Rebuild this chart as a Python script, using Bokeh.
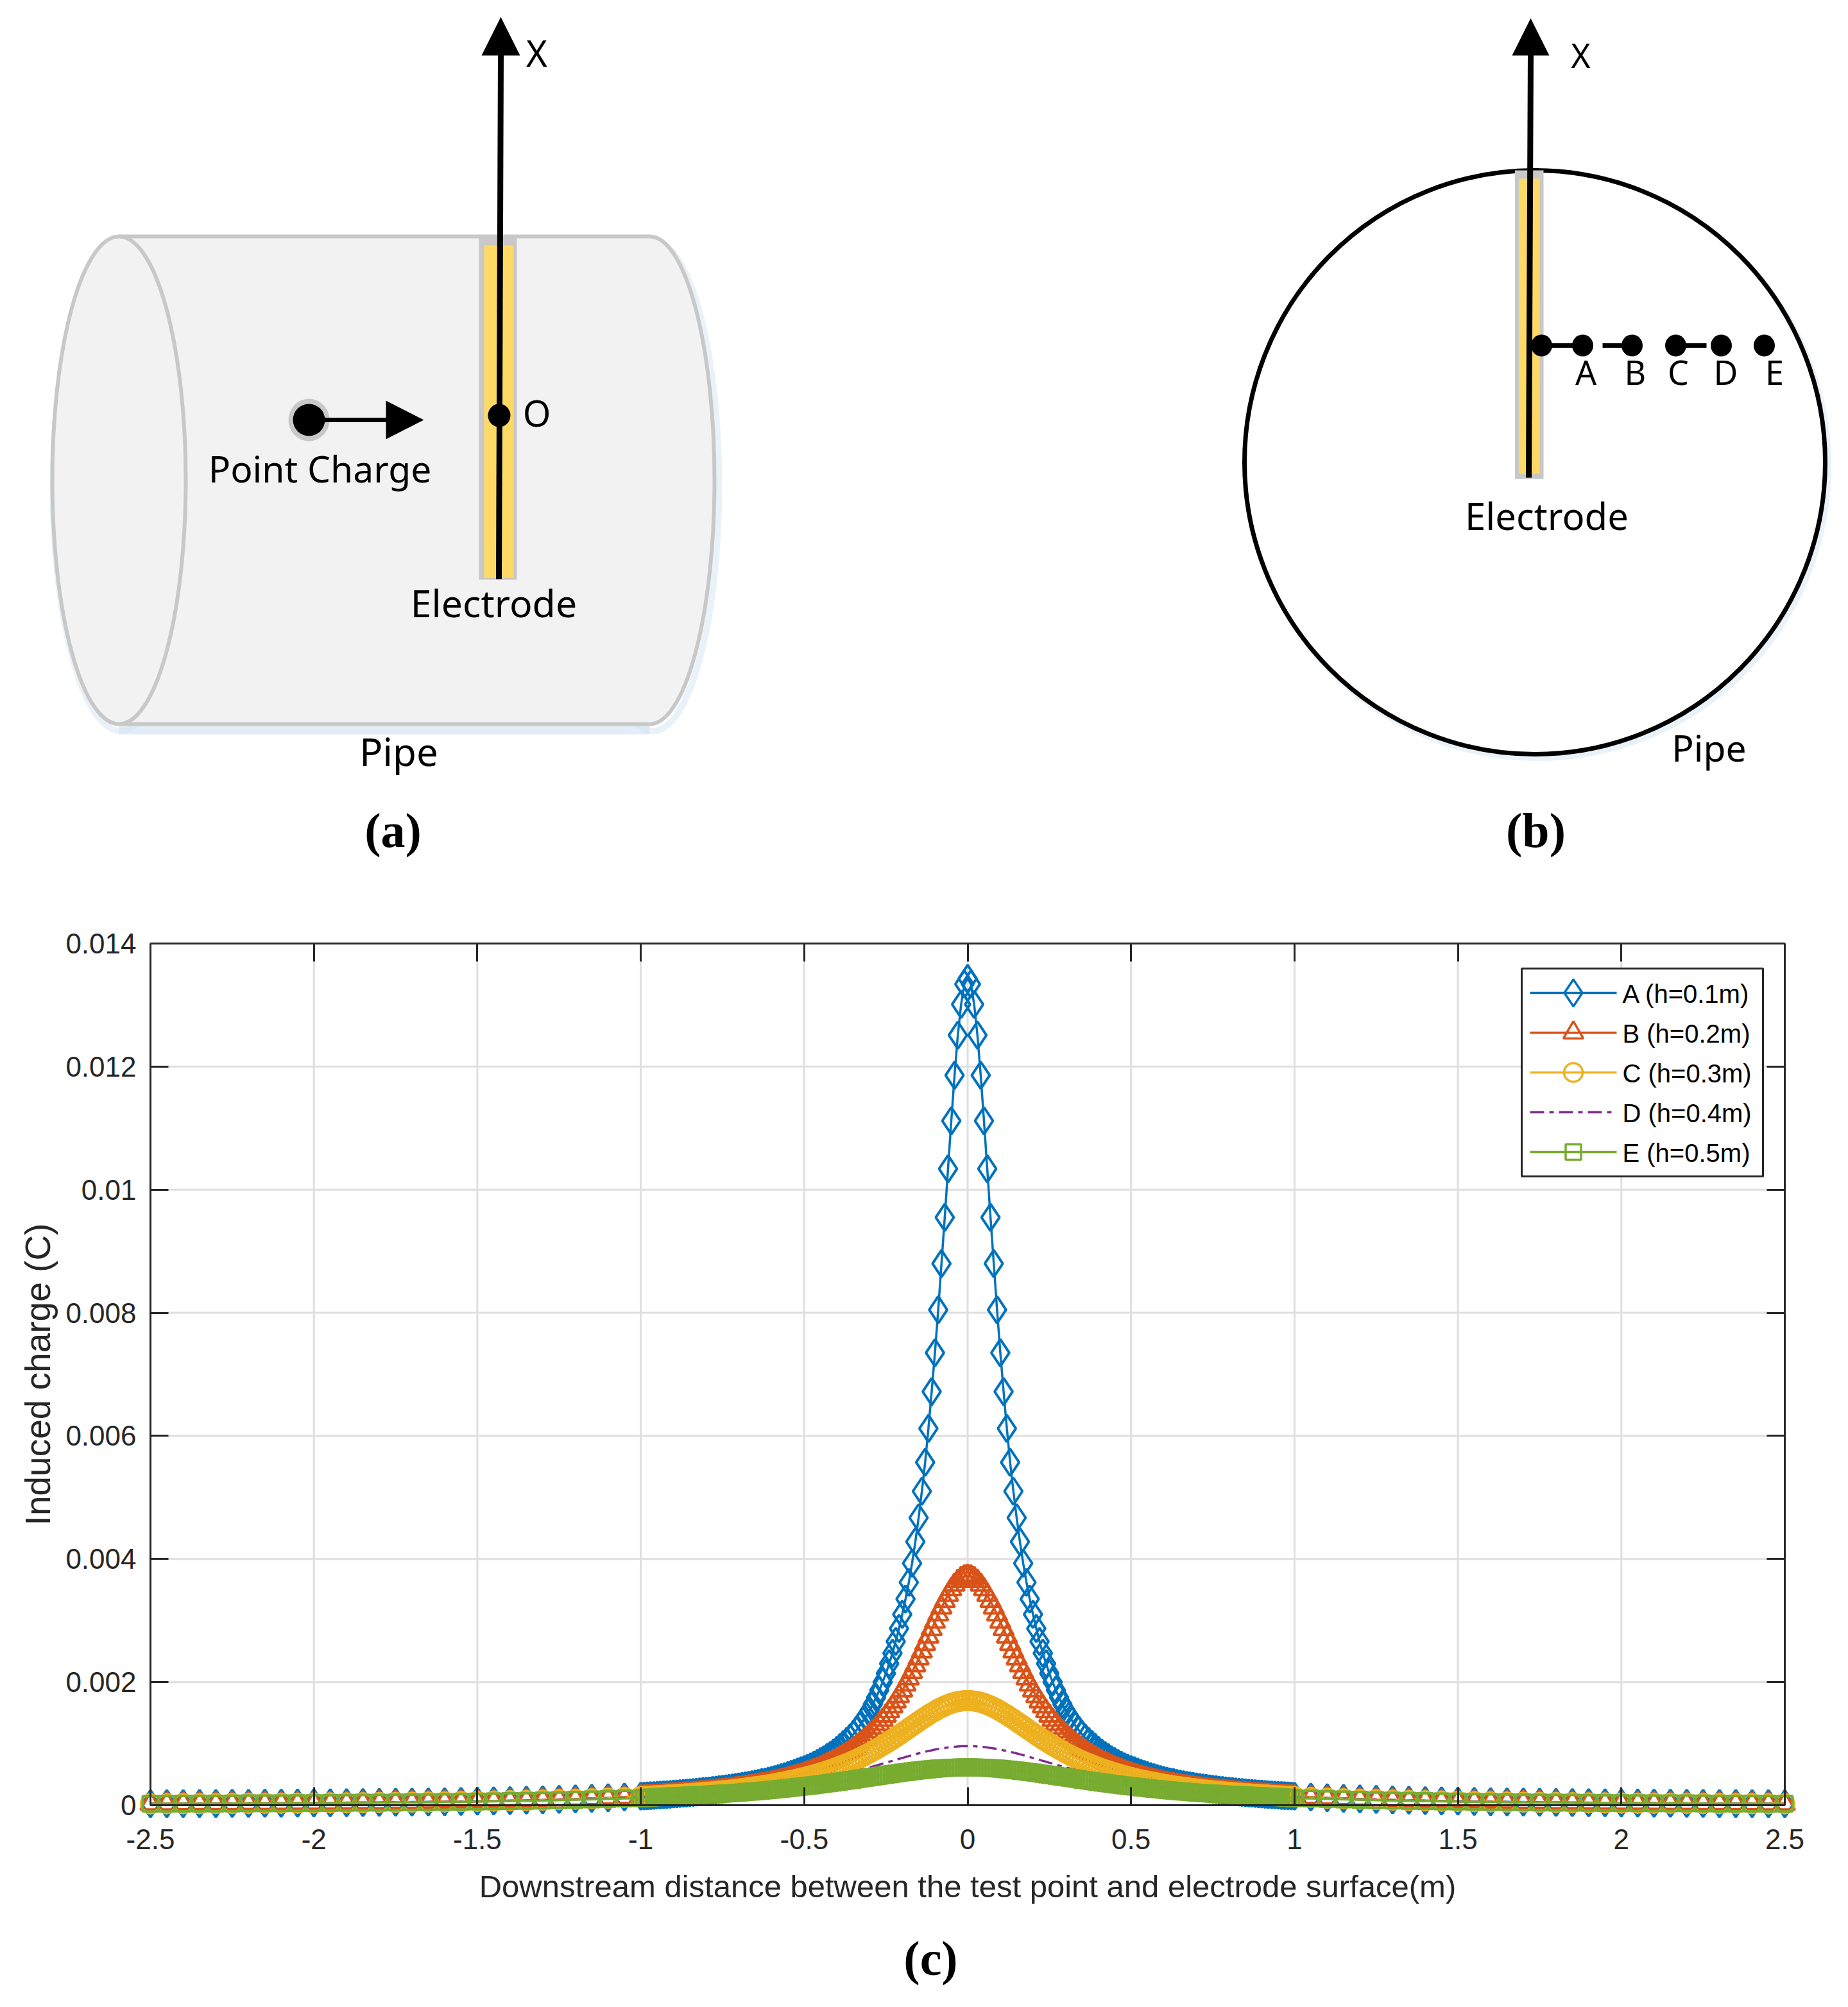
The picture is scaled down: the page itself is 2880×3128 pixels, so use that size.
from bokeh.plotting import figure
from bokeh.models import Range1d, FixedTicker, LinearAxis
from bokeh.core.properties import value
from bokeh.embed import file_html
from bokeh.resources import INLINE

# ---------- chart data: values; the curves are symmetric about x = 0 ----------
X_INNER = [i / 100 for i in range(101)]                 # 0 .. 1 in steps of 0.01
X_OUTER = [1 + (i + 1) * 0.05 for i in range(30)]       # 1.05 .. 2.5 in steps of 0.05

A_INNER = [.01343,.01334,.01301,.01251,.01186,.01112,.01034,.00955,.00880,.00805,.00735,.00672,.00612,.00557,.00510,.00467,.00428,.00393,.00362,.00335,.00310,.00287,.00266,.00247,.00230,.00214,.00200,.00187,.00175,.00164,.00154,.00145,.00137,.00129,.00122,.00115,.00109,.00104,.00099,.00094,.00089,.00085,.00081,.000775,.00074,.00071,.00068,.00065,.000625,.00060,.00058,
           .000561,.00054,.00052,.000501,.000483,.000466,.000449,.000434,.000419,.000405,.000392,.00038,.000368,.000356,.000345,.000335,.000325,.000316,.000307,.000298,.00029,.000282,.000274,.000267,.00026,.000253,.000246,.00024,.000234,.000228,.000222,.000217,.000212,.000207,.000202,.000197,.000193,.000189,.000184,.00018,.000176,.000172,.000169,.000165,.000162,.000158,.000155,.000152,.000149,.000146]
B_INNER = [.003725,.003716,.003688,.003643,.003582,.003506,.003417,.003318,.003211,.003098,.00298,.00286,.002739,.002619,.0025,.002384,.002271,.002163,.002058,.001958,.001863,.001772,.001686,.001604,.001527,.001454,.001385,.00132,.001258,.001201,.001146,.001095,.001046,.001001,.000958,.000917,.000879,.000842,.000808,.000776,.000745,.000716,.000689,.000663,.000638,.000614,.000592,.000571,.000551,.000532,.000514,
           .000496,.00048,.000464,.000449,.000435,.000421,.000408,.000396,.000384,.000372,.000362,.000351,.000341,.000331,.000322,.000313,.000305,.000297,.000289,.000281,.000274,.000267,.00026,.000254,.000247,.000241,.000235,.00023,.000224,.000219,.000214,.000209,.000204,.0002,.000195,.000191,.000187,.000183,.000179,.000175,.000172,.000168,.000165,.000161,.000158,.000155,.000152,.000149,.000146,.000143]
C_INNER = [.0017,.001698,.001692,.001683,.00167,.001654,.001635,.001612,.001587,.00156,.00153,.001499,.001466,.001431,.001396,.00136,.001324,.001287,.00125,.001213,.001177,.001141,.001105,.001071,.001037,.001003,.000971,.000939,.000909,.000879,.00085,.000822,.000795,.000769,.000744,.00072,.000697,.000674,.000653,.000632,.000612,.000593,.000574,.000557,.000539,.000523,.000507,.000492,.000478,.000464,.00045,
           .000437,.000425,.000413,.000401,.00039,.000379,.000369,.000359,.000349,.00034,.000331,.000323,.000314,.000306,.000299,.000291,.000284,.000277,.00027,.000264,.000258,.000251,.000246,.00024,.000234,.000229,.000224,.000219,.000214,.00021,.000205,.000201,.000196,.000192,.000188,.000184,.000181,.000177,.000173,.00017,.000167,.000163,.00016,.000157,.000154,.000151,.000148,.000146,.000143,.00014]
D_INNER = [.00096,.000959,.000958,.000955,.00095,.000945,.000939,.000931,.000923,.000914,.000904,.000892,.000881,.000868,.000855,.000842,.000828,.000813,.000798,.000783,.000768,.000753,.000737,.000721,.000706,.00069,.000675,.000659,.000644,.000629,.000614,.0006,.000585,.000571,.000557,.000544,.00053,.000517,.000505,.000492,.00048,.000468,.000457,.000445,.000434,.000424,.000413,.000403,.000393,.000384,.000375,
           .000366,.000357,.000348,.00034,.000332,.000324,.000317,.000309,.000302,.000295,.000289,.000282,.000276,.00027,.000264,.000258,.000252,.000247,.000241,.000236,.000231,.000226,.000222,.000217,.000213,.000208,.000204,.0002,.000196,.000192,.000188,.000185,.000181,.000177,.000174,.000171,.000168,.000164,.000161,.000158,.000155,.000153,.00015,.000147,.000145,.000142,.00014,.000137,.000135,.000132]
E_INNER = [.000615,.000615,.000614,.000613,.000611,.000609,.000606,.000603,.0006,.000596,.000592,.000587,.000582,.000577,.000571,.000565,.000559,.000552,.000545,.000538,.000531,.000524,.000516,.000508,.0005,.000493,.000485,.000477,.000469,.000461,.000453,.000445,.000437,.000429,.000421,.000413,.000406,.000398,.00039,.000383,.000376,.000368,.000361,.000354,.000347,.00034,.000333,.000327,.00032,.000314,.000308,
           .000302,.000296,.00029,.000284,.000278,.000272,.000266,.000261,.000255,.00025,.000245,.00024,.000235,.00023,.000226,.000222,.000218,.000214,.000209,.000204,.0002,.000196,.000193,.00019,.000187,.000184,.000181,.000178,.000175,.000172,.000169,.000166,.000163,.00016,.000158,.000155,.000153,.000151,.000148,.000146,.000143,.00014,.000137,.000134,.000132,.000128,.000124,.00012,.000116,.000112]

A_OUTER = [.000133,.000121,.000111,.000102,.000094,.000087,.000081,.000075,.00007,.000065,.000061,.000057,.000054,.000051,.000048,.000045,.000043,.000041,.000039,.000037,.000035,.000033,.000032,.00003,.000029,.000028,.000027,.000026,.000025,.000024]
B_OUTER = [.00013,.000119,.000109,.0001,.000093,.000086,.000079,.000074,.000069,.000064,.00006,.000057,.000053,.00005,.000048,.000045,.000043,.00004,.000038,.000037,.000035,.000033,.000032,.00003,.000029,.000028,.000027,.000026,.000024,.000024]
C_OUTER = [.000124,.000114,.000105,.000097,.00009,.000083,.000077,.000072,.000067,.000063,.000059,.000056,.000052,.00005,.000047,.000045,.000042,.00004,.000038,.000036,.000034,.000033,.000032,.00003,.000029,.000028,.000026,.000025,.000024,.000023]
D_OUTER = [.000117,.000108,.0001,.000092,.000086,.00008,.000075,.00007,.000065,.000061,.000058,.000054,.000051,.000049,.000046,.000044,.000042,.000039,.000038,.000036,.000034,.000033,.000031,.00003,.000029,.000027,.000026,.000025,.000024,.000023]
E_OUTER = [.000109,.000101,.000094,.000088,.000082,.000076,.000071,.000067,.000063,.000059,.000056,.000053,.00005,.000047,.000045,.000043,.000041,.000039,.000037,.000035,.000034,.000032,.000031,.00003,.000028,.000027,.000026,.000025,.000024,.000023]

SERIES_NAMES = ["A (h=0.1m)", "B (h=0.2m)", "C (h=0.3m)", "D (h=0.4m)", "E (h=0.5m)"]
SERIES_COLORS = ["#0072BD", "#D95319", "#EDB120", "#7E2F8E", "#77AC30"]
SERIES_MARKERS = ["diamond", "triangle", "circle", None, "square"]
MARKER_SIZES = [42, 31, 29, 0, 24]

X_TICKS = [-2.5, -2, -1.5, -1, -0.5, 0, 0.5, 1, 1.5, 2, 2.5]
X_LABELS = ["-2.5", "-2", "-1.5", "-1", "-0.5", "0", "0.5", "1", "1.5", "2", "2.5"]
Y_TICKS = [0, 0.002, 0.004, 0.006, 0.008, 0.01, 0.012, 0.014]
Y_LABELS = ["0", "0.002", "0.004", "0.006", "0.008", "0.01", "0.012", "0.014"]
X_TITLE = "Downstream distance between the test point and electrode surface(m)"
Y_TITLE = "Induced charge (C)"

POINT_LETTERS = ["A", "B", "C", "D", "E"]

for s in (A_INNER, B_INNER, C_INNER, D_INNER, E_INNER):
    assert len(s) == 101, len(s)
for s in (A_OUTER, B_OUTER, C_OUTER, D_OUTER, E_OUTER):
    assert len(s) == 30, len(s)


def full_x():
    return [-v for v in reversed(X_OUTER)] + [-v for v in reversed(X_INNER[1:])] + X_INNER + X_OUTER


def full_y(inner, outer):
    return list(reversed(outer)) + list(reversed(inner[1:])) + inner + outer


# ---------- page geometry ----------
ORIGIN = 0                 # picture pixel of the figure's top-left corner, as measured on the result
W, H = 2864, 3112
AX_L, AX_R, AX_T, AX_B = 234, 2781, 1470, 2813
sx = (AX_R - AX_L) / 5.0
sy = (AX_B - AX_T) / 0.014


def px(v):
    return -2.5 + (v - AX_L) / sx


def py(v):
    return (AX_B - v) / sy


AX_COLOR = "#262626"
FONT = value("Liberation Sans")
BLACK = "#000000"
GREY = "#c8c8c8"
GOLD = "#ffd966"
PIPE = "#f2f2f2"
GLOW = "#d5e5f4"
SANS = value("Noto Sans")
SERIF = value("Liberation Serif")

# the single figure's frame covers the canvas so that markers, tick labels and panels may leave the axes box
p = figure(width=W, height=H,
           x_range=Range1d(px(ORIGIN), px(ORIGIN + W)),
           y_range=Range1d(py(ORIGIN + H), py(ORIGIN)),
           toolbar_location=None, output_backend="svg", min_border=0,
           outline_line_color=None, background_fill_color="#ffffff")
p.grid.visible = False
p.extra_x_ranges["page"] = Range1d(ORIGIN, ORIGIN + W)
p.extra_y_ranges["page"] = Range1d(ORIGIN + H, ORIGIN)
PG = dict(x_range_name="page", y_range_name="page")

# ---------- panel (a) ----------
PIPE_X0, PIPE_X1, PIPE_YC, PIPE_H, PIPE_RX0, PIPE_RX1 = 185, 1012, 748, 760, 104, 101
p.ellipse([PIPE_X1 + 5], [PIPE_YC + 9], 2 * PIPE_RX1 + 4, PIPE_H + 4, fill_color=None, line_color=GLOW, line_width=10, line_alpha=0.5, **PG)
p.ellipse([PIPE_X0 + 3], [PIPE_YC + 9], 2 * PIPE_RX0 + 4, PIPE_H + 4, fill_color=None, line_color=GLOW, line_width=10, line_alpha=0.5, **PG)
p.segment([PIPE_X0], [PIPE_YC + PIPE_H / 2 + 9], [PIPE_X1], [PIPE_YC + PIPE_H / 2 + 9], line_color=GLOW, line_width=14, line_alpha=0.7, **PG)
p.ellipse([PIPE_X1], [PIPE_YC], 2 * PIPE_RX1, PIPE_H, fill_color=PIPE, line_color=GREY, line_width=6, **PG)
p.quad(left=[PIPE_X0], right=[PIPE_X1], top=[PIPE_YC - PIPE_H / 2], bottom=[PIPE_YC + PIPE_H / 2], fill_color=PIPE, line_color=None, **PG)
p.segment([PIPE_X0, PIPE_X0], [PIPE_YC - PIPE_H / 2, PIPE_YC + PIPE_H / 2], [PIPE_X1, PIPE_X1], [PIPE_YC - PIPE_H / 2, PIPE_YC + PIPE_H / 2], line_color=GREY, line_width=6, **PG)
p.ellipse([PIPE_X0], [PIPE_YC], 2 * PIPE_RX0, PIPE_H, fill_color=PIPE, line_color=GREY, line_width=6, **PG)

p.quad(left=[746], right=[805], top=[370], bottom=[903], fill_color=GREY, line_color=None, **PG)
p.quad(left=[754], right=[800], top=[382], bottom=[900], fill_color=GOLD, line_color=None, **PG)
p.line([780, 777], [85, 902], line_color=BLACK, line_width=9, **PG)
p.patch([780, 750, 810], [26, 86, 86], fill_color=BLACK, line_color=None, **PG)
p.ellipse([777.5], [647], 35, 36, fill_color=BLACK, line_color=None, **PG)

p.ellipse([481], [654], 64, 66, fill_color=GREY, line_color=None, **PG)
p.ellipse([481], [654], 50, 50, fill_color=BLACK, line_color=None, **PG)
p.line([481, 605], [654, 654], line_color=BLACK, line_width=7, **PG)
p.patch([601, 660, 601], [624, 654, 684], fill_color=BLACK, line_color=None, **PG)

# ---------- panel (b) ----------
p.ellipse([2396], [726], 905, 910, fill_color=None, line_color=GLOW, line_width=10, line_alpha=0.5, **PG)
p.ellipse([2391.5], [720], 905, 910, fill_color="#ffffff", line_color=BLACK, line_width=7, **PG)
p.quad(left=[2360.5], right=[2405], top=[265], bottom=[746], fill_color=GREY, line_color=None, **PG)
p.quad(left=[2367], right=[2399], top=[278], bottom=[738], fill_color=GOLD, line_color=None, **PG)
p.line([2385, 2382], [85, 744], line_color=BLACK, line_width=9, **PG)
p.patch([2385, 2356, 2414], [28, 86, 86], fill_color=BLACK, line_color=None, **PG)

POINT_X = [2402, 2466, 2543, 2611, 2682, 2749]
LETTER_X = [2471, 2548, 2615, 2689, 2765]
p.segment([2415, 2497, 2625], [538, 538, 538], [2451, 2527, 2659], [538, 538, 538], line_color=BLACK, line_width=7, **PG)
p.ellipse(POINT_X, [538] * 6, 33, 34, fill_color=BLACK, line_color=None, **PG)

SKETCH_TEXT = [
    ("X", 836, 81, 56), ("O", 836, 642, 56), ("Point Charge", 498, 729, 57), ("Electrode", 769, 938, 59),
    ("Pipe", 621, 1170, 60), ("X", 2463, 85, 52), ("Electrode", 2410, 803, 58), ("Pipe", 2663, 1164, 57),
]
for t, x, y, s in SKETCH_TEXT:
    p.text([x], [y], text=[t], text_font=SANS, text_font_size=value(f"{s}px"), text_color="#000000",
           text_align="center", text_baseline="middle", **PG)
p.text(LETTER_X, [579] * 5, text=POINT_LETTERS, text_font=SANS, text_font_size=value("52px"), text_color="#000000",
       text_align="center", text_baseline="middle", **PG)
p.text([612, 2393, 1450], [1293, 1293, 3051], text=["(a)", "(b)", "(c)"], text_font=SERIF, text_font_size=value("76px"),
       text_font_style="bold", text_color="#000000", text_align="center", text_baseline="middle", **PG)

# ---------- panel (c) ----------
p.segment(X_TICKS[1:-1], [0] * 9, X_TICKS[1:-1], [0.014] * 9, line_color="#dfdfdf", line_width=3, level="underlay")
p.segment([-2.5] * 6, Y_TICKS[1:-1], [2.5] * 6, Y_TICKS[1:-1], line_color="#dfdfdf", line_width=3, level="underlay")

xa = p.xaxis[0]
ya = p.yaxis[0]
for ax, ticks, labels, loc, bounds in ((xa, X_TICKS, X_LABELS, 0, (-2.5, 2.5)), (ya, Y_TICKS, Y_LABELS, -2.5, (0, 0.014))):
    ax.ticker = FixedTicker(ticks=ticks)
    ax.major_label_overrides = dict(zip(ticks, labels))
    ax.fixed_location = loc
    ax.bounds = bounds
    ax.axis_line_color = AX_COLOR
    ax.axis_line_width = 3
    ax.major_tick_line_color = AX_COLOR
    ax.major_tick_line_width = 3
    ax.major_tick_in = 28
    ax.major_tick_out = 0
    ax.minor_tick_line_color = None
    ax.major_label_text_font = "Liberation Sans"
    ax.major_label_text_font_size = "44px"
    ax.major_label_text_color = AX_COLOR
    ax.axis_label_text_font = "Liberation Sans"
    ax.axis_label_text_font_style = "normal"
    ax.axis_label_text_color = AX_COLOR
xa.axis_label = X_TITLE
ya.axis_label = Y_TITLE
xa.axis_label_text_font_size = "49px"
ya.axis_label_text_font_size = "55px"
xa.major_label_standoff = 37
ya.major_label_standoff = 22
xa.axis_label_standoff = 28
ya.axis_label_standoff = 9
ya.major_label_orientation = "horizontal"

for side, loc, ticks, bounds in (("above", 0.014, X_TICKS, (-2.5, 2.5)), ("right", 2.5, Y_TICKS, (0, 0.014))):
    a = LinearAxis(ticker=FixedTicker(ticks=ticks), bounds=bounds, fixed_location=loc,
                   major_label_overrides={t: "" for t in ticks},
                   axis_line_color=AX_COLOR, axis_line_width=3, major_tick_line_color=AX_COLOR, major_tick_line_width=3,
                   major_tick_in=28, major_tick_out=0, minor_tick_line_color=None, major_label_standoff=0)
    p.add_layout(a, side)

X_FULL = full_x()
ALL_Y = [full_y(A_INNER, A_OUTER), full_y(B_INNER, B_OUTER), full_y(C_INNER, C_OUTER), full_y(D_INNER, D_OUTER), full_y(E_INNER, E_OUTER)]
for y, col, mk, size in zip(ALL_Y, SERIES_COLORS, SERIES_MARKERS, MARKER_SIZES):
    if mk is None:
        p.line(X_FULL, y, line_color=col, line_width=3.5, line_dash="22 8 7 8")
    else:
        p.line(X_FULL, y, line_color=col, line_width=3.5)
        p.scatter(X_FULL, y, marker=mk, size=size, fill_color=None, line_color=col, line_width=4)

# legend box (hand-set so that marker sizes follow the reference)
LEG_L, LEG_R, LEG_T, LEG_B = 2371, 2747, 1509, 1833
LEG_ROWS = [1547, 1609, 1671, 1733, 1795]
p.quad(left=[LEG_L], right=[LEG_R], top=[LEG_T], bottom=[LEG_B], fill_color="#ffffff", line_color=AX_COLOR, line_width=3, **PG)
for row, name, col, mk, size in zip(LEG_ROWS, SERIES_NAMES, SERIES_COLORS, SERIES_MARKERS, MARKER_SIZES):
    dash = "solid" if mk else "22 8 7 8"
    p.line([2384, 2519], [row, row], line_color=col, line_width=3.5, line_dash=dash, **PG)
    if mk:
        p.scatter([2451.5], [row], marker=mk, size=size, fill_color=None, line_color=col, line_width=3.5, **PG)
    p.text([2528], [row + 1], text=[name], text_font=FONT, text_font_size=value("40px"), text_color="#000000",
           text_align="left", text_baseline="middle", **PG)

open("out.html", "w").write(file_html(p, INLINE))
